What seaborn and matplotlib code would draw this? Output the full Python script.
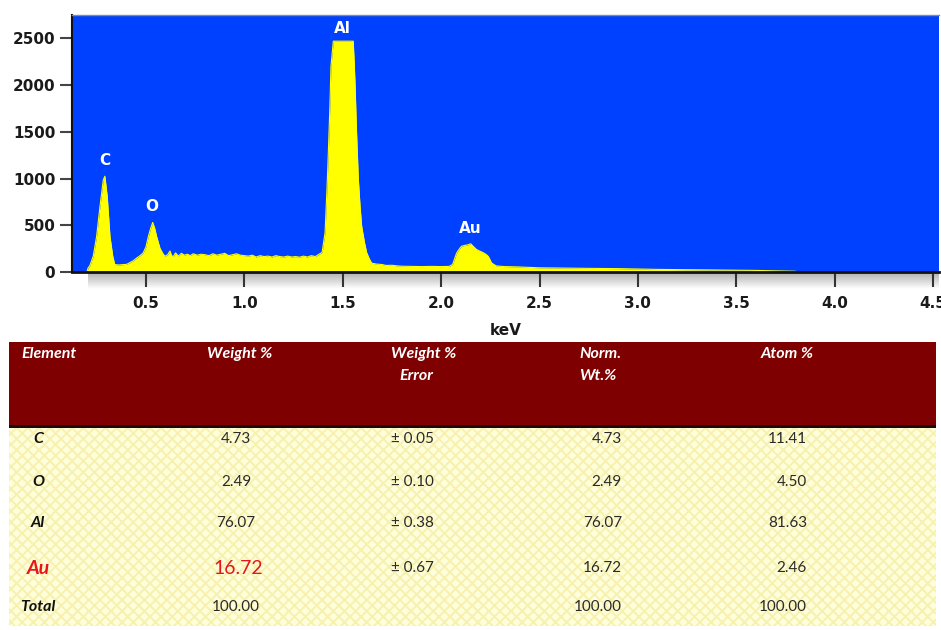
import numpy as np
import pandas as pd
import matplotlib
matplotlib.use("Agg")
import matplotlib.pyplot as plt
from matplotlib.patches import Rectangle
import seaborn as sns

# ---- EDS spectrum: energy (keV) and counts ----
energy_kev = [
    0.200, 0.205, 0.215, 0.232, 0.249, 0.266, 0.283, 0.291, 0.303, 0.317,
    0.331, 0.341, 0.360, 0.380, 0.402, 0.416, 0.435, 0.453, 0.470, 0.486,
    0.500, 0.512, 0.524, 0.534, 0.544, 0.554, 0.571, 0.585, 0.596, 0.610,
    0.622, 0.630, 0.639, 0.650, 0.664, 0.680, 0.695, 0.710, 0.725, 0.740,
    0.760, 0.780, 0.800, 0.820, 0.840, 0.860, 0.880, 0.900, 0.920, 0.940,
    0.960, 0.980, 1.000, 1.020, 1.040, 1.060, 1.080, 1.100, 1.120, 1.140,
    1.160, 1.180, 1.200, 1.220, 1.240, 1.260, 1.280, 1.300, 1.320, 1.340,
    1.360, 1.380, 1.395, 1.410, 1.420, 1.427, 1.435, 1.440, 1.452, 1.500,
    1.553, 1.558, 1.562, 1.570, 1.579, 1.588, 1.596, 1.610, 1.621, 1.635,
    1.647, 1.670, 1.700, 1.720, 1.750, 1.780, 1.800, 1.850, 1.900, 1.950,
    2.000, 2.040, 2.058, 2.078, 2.090, 2.103, 2.120, 2.135, 2.150, 2.165,
    2.180, 2.200, 2.215, 2.230, 2.240, 2.257, 2.280, 2.320, 2.380, 2.440,
    2.500, 2.600, 2.700, 2.800, 2.900, 3.000, 3.100, 3.200, 3.300, 3.400,
    3.500, 3.600, 3.700, 3.800, 3.805,
]
counts = [
    0, 40, 70, 170, 380, 700, 985, 1025, 810, 380,
    170, 80, 75, 78, 82, 98, 120, 150, 175, 205,
    270, 380, 470, 530, 470, 380, 255, 200, 168, 185,
    225, 175, 165, 205, 170, 200, 180, 190, 175, 195,
    180, 190, 185, 175, 195, 180, 190, 200, 175, 185,
    195, 180, 175, 170, 180, 160, 175, 165, 170, 160,
    175, 165, 160, 170, 160, 165, 158, 170, 160, 175,
    165, 190, 210, 420, 900, 1300, 1800, 2200, 2470, 2470,
    2470, 2250, 2030, 1500, 1000, 700, 490, 320, 210, 140,
    95, 85, 80, 70, 72, 65, 62, 60, 58, 60,
    58, 60, 80, 200, 240, 275, 285, 290, 302, 270,
    240, 220, 205, 185, 165, 95, 65, 58, 55, 50,
    45, 42, 40, 38, 36, 32, 28, 26, 24, 22,
    20, 17, 12, 8, 0,
]

peak_names = ["C", "O", "Al", "Au"]
peak_kev = [0.29, 0.53, 1.50, 2.15]
peak_label_counts = [1190, 700, 2610, 465]

x_ticks = [0.5, 1.0, 1.5, 2.0, 2.5, 3.0, 3.5, 4.0, 4.5]
y_ticks = [0, 500, 1000, 1500, 2000, 2500]

# ---- quantification table ----
elements = ["C", "O", "Al", "Au", "Total"]
weight_pct = ["4.73", "2.49", "76.07", "16.72", "100.00"]
weight_err = ["\u00b1 0.05", "\u00b1 0.10", "\u00b1 0.38", "\u00b1 0.67", ""]
norm_wt_pct = ["4.73", "2.49", "76.07", "16.72", "100.00"]
atom_pct = ["11.41", "4.50", "81.63", "2.46", "100.00"]
header_top = ["Element", "Weight %", "Weight %", "Norm.", "Atom %"]
header_bottom = ["", "", "Error", "Wt.%", ""]
highlight = "Au"

sns.set_style("ticks")
plt.rcParams["font.family"] = ["DejaVu Sans"]

W, H = 941, 630
fig = plt.figure(figsize=(W / 100, H / 100), dpi=100)
fig.patch.set_facecolor("white")

def frac(x0, y0, x1, y1):
    return [x0 / W, 1 - y1 / H, (x1 - x0) / W, (y1 - y0) / H]

# ---- table drawn in pixel space on a full-figure axes ----
tab = fig.add_axes([0, 0, 1, 1], zorder=0)
tab.set_xlim(0, W)
tab.set_ylim(H, 0)
tab.axis("off")
tab.patch.set_alpha(0)

tab.add_patch(Rectangle((9, 342), 927, 84, facecolor="#7E0000", edgecolor="none"))
tab.add_patch(Rectangle((9, 425), 927, 3, facecolor="#1a0a0a", edgecolor="none"))
plt.rcParams["hatch.linewidth"] = 1.4
tab.add_patch(Rectangle((9, 428), 927, 198, facecolor="#FFFEDA",
                        edgecolor="#F7F1B0", hatch="xxx", lw=0))

hdr_font = dict(family="Lato", fontweight="bold", style="italic",
                color="white", fontsize=11.5, va="center", ha="left")
hdr_x_top = [21, 207, 391, 579, 761]
hdr_x_bot = [21, 207, 399, 579, 761]
for i in range(len(header_top)):
    tab.text(hdr_x_top[i], 354, header_top[i], **hdr_font)
    if header_bottom[i]:
        tab.text(hdr_x_bot[i], 376, header_bottom[i], **hdr_font)

row_y = [439, 482, 523, 568, 607]
num_font = dict(family="Lato", color="#2a2a2a", fontsize=11, va="center")
for i, el in enumerate(elements):
    hot = el == highlight
    tab.text(38, row_y[i], el, family="Lato", fontweight="bold", style="italic",
             color="#E8141C" if hot else "#111111",
             fontsize=14 if hot else 11.5, ha="center", va="center")
    if hot:
        tab.text(238, row_y[i], weight_pct[i], family="Lato", color="#E8141C",
                 fontsize=14, ha="center", va="center")
    else:
        tab.text(236, row_y[i], weight_pct[i], ha="center", **num_font)
    tab.text(391, row_y[i], weight_err[i], ha="left", **num_font)
    tab.text(622, row_y[i], norm_wt_pct[i], ha="right", **num_font)
    tab.text(807, row_y[i], atom_pct[i], ha="right", **num_font)

# ---- grey shaded strip under the energy axis ----
band = fig.add_axes(frac(88, 273, 939, 289), zorder=1)
grad = np.linspace(0.70, 1.0, 64).reshape(-1, 1)
band.imshow(grad, cmap="gray", vmin=0, vmax=1, aspect="auto",
            extent=[0, 1, 0, 1], origin="upper")
band.axis("off")

# ---- spectrum ----
ax = fig.add_axes(frac(72, 15, 939, 272), zorder=2)
ax.set_facecolor("#0040FF")
spec = pd.DataFrame({"keV": energy_kev, "counts": counts})
sns.lineplot(data=spec, x="keV", y="counts", color="#FFFF00", lw=0.8, ax=ax)
ax.fill_between(spec["keV"], 0, spec["counts"], color="#FFFF00", lw=0)

for name, xk, yc in zip(peak_names, peak_kev, peak_label_counts):
    ax.text(xk, yc, name, color="white", fontweight="bold", fontsize=11,
            ha="center", va="center")

ax.set_xlim(0.124, 4.53)
ax.set_ylim(0, 2750)
ax.set_xticks(x_ticks)
ax.set_xticklabels([f"{v:.1f}" for v in x_ticks])
ax.set_yticks(y_ticks)
ax.set_yticklabels([str(v) for v in y_ticks])
ax.tick_params(axis="x", length=11, width=1.5, color="#333333", pad=6,
               labelsize=11, labelcolor="#1a1a1a")
ax.tick_params(axis="y", length=8.6, width=1.5, color="#444444", pad=3.5,
               labelsize=11, labelcolor="#1a1a1a")
for lab in ax.get_xticklabels() + ax.get_yticklabels():
    lab.set_fontweight("bold")
ax.set_xlabel("keV", fontweight="bold", fontsize=11, color="#1a1a1a", labelpad=9)
ax.set_ylabel("")
ax.spines["right"].set_visible(False)
ax.spines["top"].set_color("#8a8a8a")
ax.spines["top"].set_linewidth(1.0)
ax.spines["left"].set_color("#111111")
ax.spines["left"].set_linewidth(1.5)
ax.spines["bottom"].set_color("#111111")
ax.spines["bottom"].set_linewidth(2.0)

fig.savefig("out.png", dpi=100, facecolor="white")
